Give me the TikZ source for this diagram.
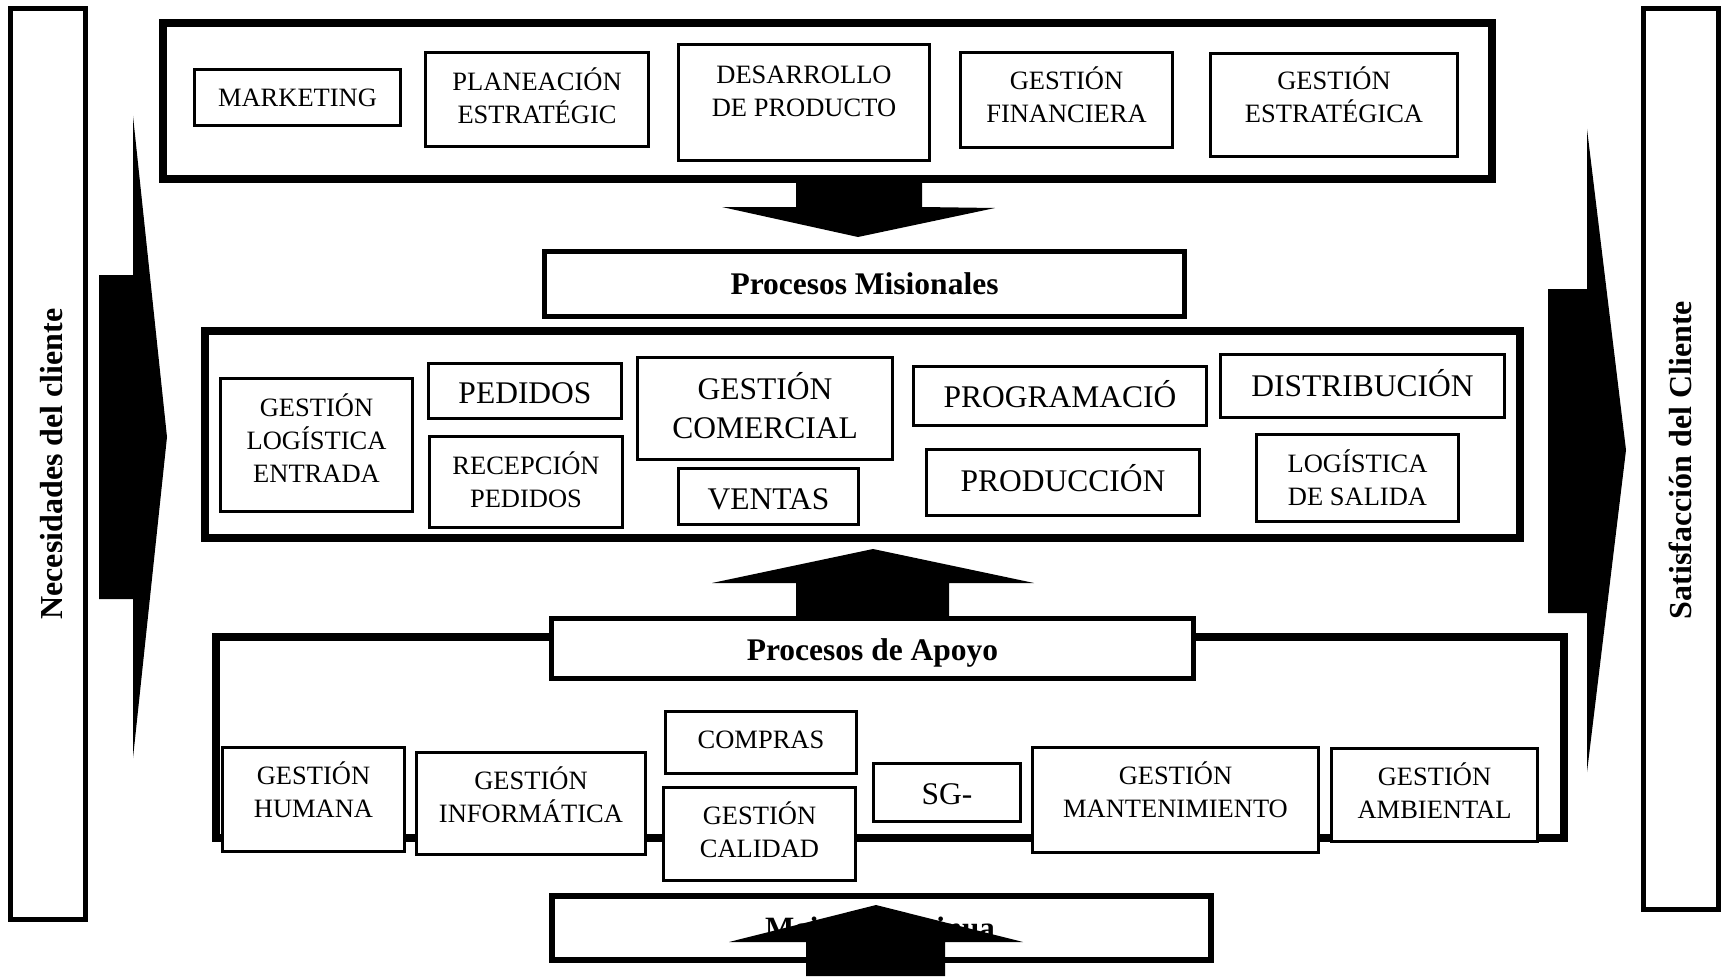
\documentclass[tikz,border=0pt]{standalone}
\usepackage{fontspec}
\setmainfont{Liberation Serif}
\newcommand\fsm{\fontsize{26.5}{33}\selectfont}
\newcommand\fsl{\fontsize{31.5}{39}\selectfont}
\tikzset{
  pbox/.style={draw, line width=3.2pt, fill=white, inner sep=0pt},
  sm/.style={font=\fsm, align=center, inner sep=0pt},
  lg/.style={font=\fsl, align=center, inner sep=0pt},
  titlebox/.style={draw, line width=5pt, fill=white, inner sep=0pt, font=\bfseries\fsl},
  frame/.style={draw, line width=8pt, inner sep=0pt},
  sidebox/.style={draw, line width=5pt, inner sep=0pt},
  sidetext/.style={rotate=90, inner sep=0pt, font=\bfseries\fontsize{32}{38}\selectfont},
  bigarrow/.style={fill=black},
}
% #1 text yshift, #2 name, #3 cx, #4 cy, #5 W, #6 H, #7 text style, #8 text
\newcommand\bx[8][0]{%
  \node[pbox, minimum width=#5pt, minimum height=#6pt] (#2) at (#3,#4) {};
  \node[#7] (#2-t) at ([yshift=#1pt]#2.center) {#8};}
\begin{document}
\begin{tikzpicture}[x=1pt, y=-1pt]
\useasboundingbox (0,0) rectangle (1721,979);
\fill[white] (0,0) rectangle (1721,979);

% side boxes
\node[sidebox, minimum width=75pt, minimum height=911pt] (left) at (48,464) {};
\node[sidetext] (left-t) at (52,464) {Necesidades del cliente};
\node[sidebox, minimum width=75pt, minimum height=901pt] (right) at (1681,459) {};
\node[sidetext] (right-t) at (1680,460) {Satisfacción del Cliente};

% side chevrons
\fill[bigarrow] (133,116) -- (167,437) -- (133,758) -- (133,599) -- (99,599) -- (99,275) -- (133,275) -- cycle;
\fill[bigarrow] (1587,129) -- (1626,450) -- (1587,772) -- (1587,613) -- (1548,613) -- (1548,289) -- (1587,289) -- cycle;

% strategic processes
\node[frame, minimum width=1329pt, minimum height=156pt] (strat) at (827.5,101) {};
\bx{mk}{297.5}{97.5}{206}{56}{sm}{MARKETING}
\bx[4]{pe}{537}{99.5}{223}{94}{sm}{PLANEACIÓN\\ESTRATÉGIC}
\bx[11]{dp}{804}{102.5}{251}{116}{sm}{DESARROLLO\\DE PRODUCTO}
\bx[5]{gf}{1066.5}{100}{212}{95}{sm}{GESTIÓN\\FINANCIERA}
\bx[10]{ge}{1334}{105}{247}{103}{sm}{GESTIÓN\\ESTRATÉGICA}

% down arrow
\fill[bigarrow] (796,183) -- (922,183) -- (922,207) -- (995,208) -- (858,237) -- (722,207) -- (796,207) -- cycle;

\node[titlebox, minimum width=640pt, minimum height=65pt] (pm) at (864.5,284) {Procesos Misionales};

% missional processes
\node[frame, minimum width=1315pt, minimum height=207pt] (mis) at (862.5,434.5) {};
\bx[7]{gle}{316.5}{445}{192}{133}{sm}{GESTIÓN\\LOGÍSTICA\\ENTRADA}
\bx[-2]{ped}{525}{391}{193}{55}{lg}{PEDIDOS}
\bx[2]{rp}{526}{482}{193}{91}{sm}{RECEPCIÓN\\PEDIDOS}
\bx[3]{gc}{765}{408.5}{255}{102}{lg}{GESTIÓN\\COMERCIAL}
\bx[-3]{ven}{768.5}{496.5}{180}{56}{lg}{VENTAS}
\bx[2]{prog}{1060}{396}{293}{59}{lg}{PROGRAMACIÓ}
\bx[3]{dist}{1362.5}{386}{284}{63}{lg}{DISTRIBUCIÓN}
\bx[4]{prod}{1063}{482.5}{273}{66}{lg}{PRODUCCIÓN}
\bx{ls}{1357.5}{478}{202}{87}{sm}{LOGÍSTICA\\DE SALIDA}

% up arrow
\fill[bigarrow] (873,549) -- (1034,583) -- (949,583) -- (949,616) -- (796,616) -- (796,583) -- (712,583) -- cycle;

% support processes
\draw[line width=8pt] (216,637) rectangle (1564,838);
\node[titlebox, minimum width=642pt, minimum height=60pt] (pa) at (872.5,648.5) {};
\node[font=\bfseries\fsl, inner sep=0pt] (pa-t) at ([yshift=-4pt]pa.center) {Procesos de Apoyo};
\bx[10]{gh}{313.5}{799.5}{182}{104}{sm}{GESTIÓN\\HUMANA}
\bx[9]{gi}{531}{803.5}{229}{102}{sm}{GESTIÓN\\INFORMÁTICA}
\bx[3]{com}{761}{742.5}{191}{62}{sm}{COMPRAS}
\bx[4]{gcal}{759.5}{834}{192}{93}{sm}{GESTIÓN\\CALIDAD}
\bx[-2]{sg}{947}{792.5}{147}{58}{lg}{SG-}
\bx[10]{gm}{1175.5}{800}{286}{105}{sm}{GESTIÓN\\MANTENIMIENTO}
\bx[4]{ga}{1434.5}{795}{206}{93}{sm}{GESTIÓN\\AMBIENTAL}

% continuous improvement
\node[titlebox, line width=6pt, minimum width=659pt, minimum height=64pt] (mc) at (881.5,928) {};
\node[font=\bfseries\fontsize{31}{37}\selectfont, inner sep=0pt] (mc-t) at (880,931) {Mejora Continua};
\fill[bigarrow] (876,905) -- (1023,942) -- (945,942) -- (945,976) -- (806,976) -- (806,942) -- (729,942) -- cycle;
\end{tikzpicture}
\end{document}
